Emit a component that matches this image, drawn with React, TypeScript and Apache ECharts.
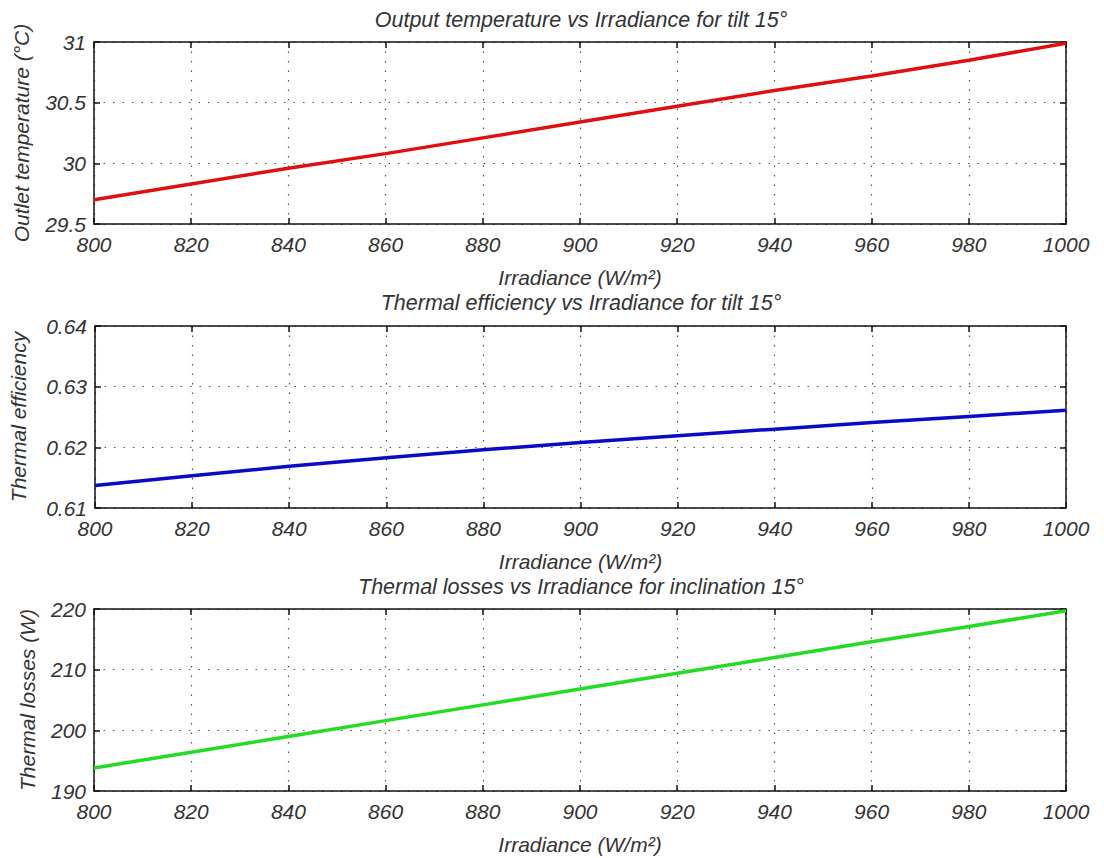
import React, { useEffect, useRef } from "react";
import * as echarts from "echarts";

const irradiance = [800, 820, 840, 860, 880, 900, 920, 940, 960, 980, 1000];
const outletTemp = [29.7, 29.83, 29.96, 30.08, 30.21, 30.34, 30.47, 30.6, 30.72, 30.85, 30.99];
const thermalEff = [0.6137, 0.6153, 0.6169, 0.6183, 0.6196, 0.6208, 0.6219, 0.623, 0.6241, 0.6251, 0.6261];
const thermalLoss = [193.8, 196.4, 199.0, 201.6, 204.2, 206.8, 209.4, 212.0, 214.6, 217.1, 219.7];

const titles = [
  "Output temperature vs Irradiance for tilt 15°",
  "Thermal efficiency vs Irradiance for tilt 15°",
  "Thermal losses vs Irradiance for inclination 15°",
];
const yNames = ["Outlet temperature (°C)", "Thermal efficiency", "Thermal losses (W)"];
const xName = "Irradiance (W/m²)";
const yRanges = [
  { min: 29.5, max: 31, interval: 0.5 },
  { min: 0.61, max: 0.64, interval: 0.01 },
  { min: 190, max: 220, interval: 10 },
];
const yFormat = [
  (v: number) => String(Number(v.toFixed(1))),
  (v: number) => v.toFixed(2),
  (v: number) => String(Math.round(v)),
];
const seriesData = [outletTemp, thermalEff, thermalLoss];
const colors = ["#e01010", "#0a0ac8", "#22dd22"];

const FONT = "Liberation Sans, Arial, sans-serif";

export default function App() {
  const ref = useRef<HTMLDivElement>(null);
  useEffect(() => {
    document.body.style.margin = "0";
    if (!ref.current) return;
    const chart = echarts.init(ref.current, undefined, { renderer: "svg" });
    const gridTops = [42, 326, 609];
    const plotH = 182;
    const yNameGaps = [62, 66, 56];
    const grids = gridTops.map((t) => ({ left: 94, right: 38, top: t, height: plotH }));
    const xAxes: any[] = [];
    const yAxes: any[] = [];
    const series: any[] = [];
    const gridLine = { show: true, lineStyle: { color: "#555", type: [1.5, 8], width: 1.2 } };
    const axisLine = { show: true, onZero: false, lineStyle: { color: "#111", width: 1.5 } };
    const tick = { show: true, inside: true, length: 6, lineStyle: { color: "#111", width: 1.5 } };
    const labelStyle = { fontFamily: FONT, fontStyle: "italic", fontSize: 21, color: "#333" };
    const nameStyle = { fontFamily: FONT, fontStyle: "italic", fontSize: 21, color: "#333", lineHeight: 21 };
    for (let i = 0; i < 3; i++) {
      xAxes.push({
        type: "value", gridIndex: i, position: "bottom", min: 800, max: 1000, interval: 20,
        axisLine, axisTick: tick, splitLine: gridLine,
        axisLabel: { ...labelStyle, margin: 10, formatter: (v: number) => String(v) },
        name: xName, nameLocation: "middle", nameGap: 43,
        nameTextStyle: nameStyle,
      });
      xAxes.push({
        type: "value", gridIndex: i, position: "top", min: 800, max: 1000, interval: 20,
        axisLine, axisTick: tick, splitLine: { show: false }, axisLabel: { show: false },
      });
      const r = yRanges[i];
      yAxes.push({
        type: "value", gridIndex: i, position: "left", min: r.min, max: r.max, interval: r.interval,
        axisLine, axisTick: tick, splitLine: gridLine,
        axisLabel: { ...labelStyle, margin: 8, formatter: yFormat[i] },
        name: yNames[i], nameLocation: "middle", nameGap: yNameGaps[i],
        nameTextStyle: nameStyle,
      });
      yAxes.push({
        type: "value", gridIndex: i, position: "right", min: r.min, max: r.max, interval: r.interval,
        axisLine, axisTick: tick, splitLine: { show: false }, axisLabel: { show: false },
      });
      series.push({
        type: "line", xAxisIndex: i * 2, yAxisIndex: i * 2,
        data: irradiance.map((x, k) => [x, seriesData[i][k]]),
        showSymbol: false, symbol: "none", smooth: false,
        lineStyle: { color: colors[i], width: 3.5 },
        itemStyle: { color: colors[i] },
      });
    }
    const titleTops = [9, 292, 576];
    chart.setOption({
      animation: false,
      backgroundColor: "#fff",
      title: titles.map((t, i) => ({
        text: t, left: 581, top: titleTops[i], textAlign: "center", padding: 0,
        textStyle: { fontFamily: FONT, fontStyle: "italic", fontWeight: "normal", fontSize: 21.5, lineHeight: 21, color: "#333" },
      })),
      grid: grids,
      xAxis: xAxes,
      yAxis: yAxes,
      series,
    });
    return () => chart.dispose();
  }, []);
  return <div ref={ref} style={{ width: 1104, height: 858 }} />;
}
